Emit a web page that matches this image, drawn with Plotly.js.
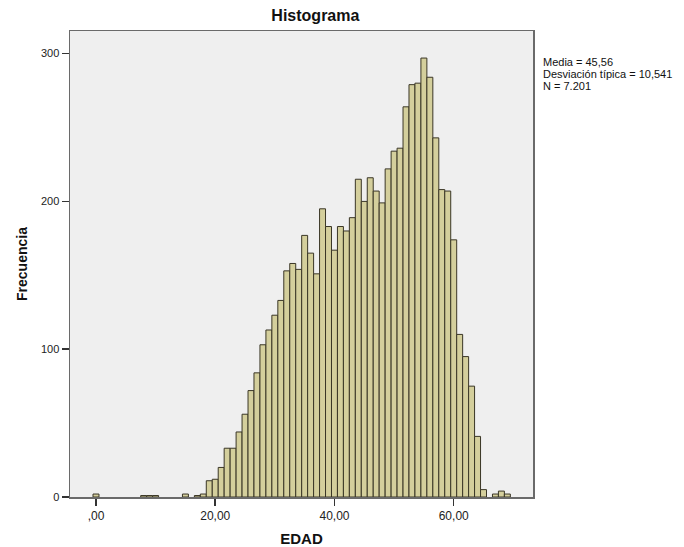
<!DOCTYPE html>
<html>
<head>
<meta charset="utf-8">
<script src="https://cdn.plot.ly/plotly-3.0.1.min.js"></script>
<style>
html,body{margin:0;padding:0;background:#fff;}
#chart{width:684px;height:547px;}
</style>
</head>
<body>
<div id="chart"></div>
<script>
// Age bins (width 1 year, centred on integer ages) and their counts
const ages = [0, 8, 9, 10, 15, 17, 18, 19, 20, 21, 22, 23, 24, 25, 26, 27, 28, 29,
  30, 31, 32, 33, 34, 35, 36, 37, 38, 39, 40, 41, 42, 43, 44, 45, 46, 47, 48, 49,
  50, 51, 52, 53, 54, 55, 56, 57, 58, 59, 60, 61, 62, 63, 64, 65, 67, 68, 69];
const counts = [2, 1, 1, 1, 2, 1, 2, 11, 12, 20, 33, 33, 44, 56, 72, 84, 103, 113,
  123, 133, 153, 158, 154, 177, 165, 151, 195, 183, 167, 183, 180, 189, 215, 200, 216, 207, 199, 222,
  234, 236, 264, 279, 280, 297, 284, 243, 208, 207, 174, 110, 95, 75, 41, 5, 2, 4, 2];
const xTickVals = [0, 20, 40, 60];
const xTickText = [",00", "20,00", "40,00", "60,00"];
const yTickVals = [0, 100, 200, 300];
const statsLines = ["Media = 45,56", "Desviación típica = 10,541", "N = 7.201"];

const FONT = "Arial, 'Liberation Sans', sans-serif";

const trace = {
  type: "bar",
  x: ages,
  y: counts,
  width: 1,
  marker: {color: "#d4cf9c", line: {color: "#3a3626", width: 1}},
  hoverinfo: "x+y"
};

const annotations = statsLines.map((t, i) => ({
  text: t, xref: "paper", yref: "paper", x: 1.0, xshift: 8, xanchor: "left",
  y: 1 - (31 + i * 12) / 466, yanchor: "middle", showarrow: false,
  font: {family: FONT, size: 11, color: "#111"}
}));

const layout = {
  width: 684, height: 547,
  margin: {l: 70, r: 151, t: 31, b: 50, pad: 0},
  paper_bgcolor: "#ffffff",
  plot_bgcolor: "#efefef",
  bargap: 0,
  showlegend: false,
  title: {
    text: "<b>Histograma</b>",
    font: {family: FONT, size: 16, color: "#111"},
    xref: "paper", x: 0.53, xanchor: "center",
    yref: "container", y: 0.972, yanchor: "middle"
  },
  xaxis: {
    range: [-4.36, 73.3],
    tickvals: xTickVals, ticktext: xTickText,
    ticks: "outside", ticklen: 7, tickwidth: 1.5, tickcolor: "#333",
    showline: true, linecolor: "#6a6a6a", linewidth: 1.5, mirror: true,
    showgrid: false, zeroline: false,
    tickfont: {family: FONT, size: 12, color: "#222"},
    title: {text: "<b>EDAD</b>", font: {family: FONT, size: 15, color: "#111"}, standoff: 12}
  },
  yaxis: {
    range: [0, 315.3],
    tickvals: yTickVals,
    ticks: "outside", ticklen: 7, tickwidth: 1.5, tickcolor: "#333",
    showline: true, linecolor: "#6a6a6a", linewidth: 1.5, mirror: true,
    showgrid: false, zeroline: false,
    tickfont: {family: FONT, size: 11, color: "#222"},
    title: {text: "<b>Frecuencia</b>", font: {family: FONT, size: 14, color: "#111"}, standoff: 10}
  },
  annotations: annotations
};

Plotly.newPlot("chart", [trace], layout, {displayModeBar: false, staticPlot: true});
</script>
</body>
</html>
